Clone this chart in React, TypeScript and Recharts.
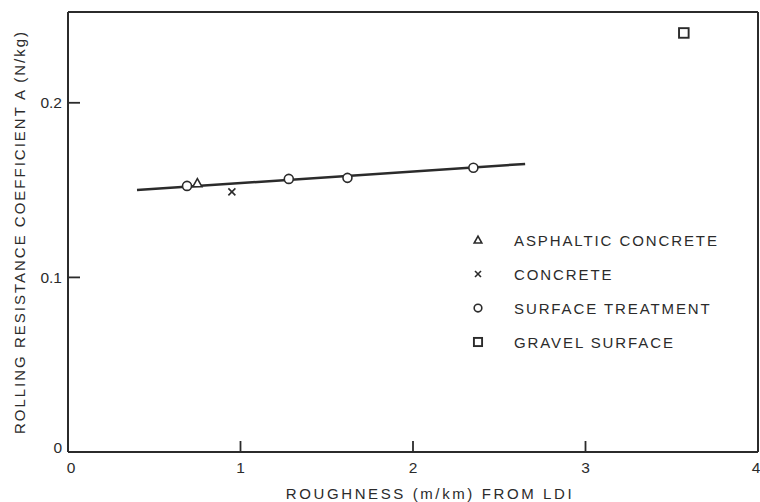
import { ScatterChart, Scatter, XAxis, YAxis, ReferenceLine, Legend } from 'recharts';

// values
const asphaltic = [{ x: 0.75, y: 0.154 }];
const concrete = [{ x: 0.95, y: 0.149 }];
const surfaceTreatment = [
  { x: 0.69, y: 0.1524 },
  { x: 1.28, y: 0.1564 },
  { x: 1.62, y: 0.157 },
  { x: 2.35, y: 0.1628 },
];
const gravel = [{ x: 3.57, y: 0.24 }];
const fitLine = [
  { x: 0.4, y: 0.15 },
  { x: 2.65, y: 0.165 },
];

const X_TICKS = [0, 1, 2, 3, 4];
const Y_TICKS = [0, 0.1, 0.2];
const X_MAX = 4;
const Y_MAX = 0.252;

type Kind = 'tri' | 'x' | 'circle' | 'square';
const LEGEND: { kind: Kind; label: string }[] = [
  { kind: 'tri', label: 'ASPHALTIC CONCRETE' },
  { kind: 'x', label: 'CONCRETE' },
  { kind: 'circle', label: 'SURFACE TREATMENT' },
  { kind: 'square', label: 'GRAVEL SURFACE' },
];

const INK = '#2b2b2b';
const FONT = '"Liberation Sans", Arial, sans-serif';

function Mark({ kind, cx, cy, small }: { kind: Kind; cx: number; cy: number; small?: boolean }) {
  const s = small ? 0.85 : 1;
  if (kind === 'tri') {
    const h = 4.5 * s;
    return (
      <polygon
        points={`${cx},${cy - h} ${cx - h},${cy + h * 0.8} ${cx + h},${cy + h * 0.8}`}
        fill="#fff"
        stroke={INK}
        strokeWidth={1.6}
      />
    );
  }
  if (kind === 'x') {
    const h = 3.5 * s;
    return (
      <g stroke={INK} strokeWidth={1.6}>
        <line x1={cx - h} y1={cy - h} x2={cx + h} y2={cy + h} />
        <line x1={cx - h} y1={cy + h} x2={cx + h} y2={cy - h} />
      </g>
    );
  }
  if (kind === 'circle') {
    return <circle cx={cx} cy={cy} r={4.5 * s} fill="#fff" stroke={INK} strokeWidth={1.6} />;
  }
  const h = 4.8 * s;
  return <rect x={cx - h} y={cy - h} width={h * 2} height={h * 2} fill="#fff" stroke={INK} strokeWidth={1.9} />;
}

const XTick = ({ x, y, payload }: any) => {
  const v = payload.value;
  return (
    <g>
      {v > 0 && v < X_MAX && <line x1={x} y1={y} x2={x} y2={y - 11} stroke={INK} strokeWidth={1.8} />}
      <text x={x + (v === 0 ? 3 : 0)} y={y + 15} textAnchor="middle" dominantBaseline="central" fontSize={15.5} fill={INK} fontFamily={FONT}>
        {v}
      </text>
    </g>
  );
};

const YTick = ({ x, y, payload }: any) => {
  const v = payload.value;
  return (
    <g>
      {v > 0 && <line x1={x} y1={y} x2={x + 12} y2={y} stroke={INK} strokeWidth={1.8} />}
      <text x={x - 6} y={v === 0 ? y - 5 : y} textAnchor="end" dominantBaseline="central" fontSize={15.5} fill={INK} fontFamily={FONT}>
        {v}
      </text>
    </g>
  );
};

const LegendBox = () => (
  <div style={{ fontFamily: FONT, color: INK, fontSize: 15, letterSpacing: 1.9 }}>
    {LEGEND.map((item) => (
      <div key={item.label} style={{ display: 'flex', alignItems: 'center', height: 34 }}>
        <svg width={20} height={16} style={{ display: 'block' }}>
          <Mark kind={item.kind} cx={10} cy={8} small />
        </svg>
        <span style={{ marginLeft: 26, whiteSpace: 'nowrap' }}>{item.label}</span>
      </div>
    ))}
  </div>
);

export default function App() {
  return (
    <div style={{ position: 'absolute', left: 0, top: 0, background: '#fff' }}>
      <ScatterChart width={760} height={502} margin={{ top: 12, right: 2, bottom: 0, left: 0 }}>
        <XAxis
          type="number"
          dataKey="x"
          domain={[0, X_MAX]}
          ticks={X_TICKS}
          tick={<XTick />}
          tickLine={false}
          tickSize={0}
          tickMargin={0}
          height={50}
          axisLine={{ stroke: INK, strokeWidth: 2 }}
          label={{
            value: 'ROUGHNESS (m/km) FROM LDI',
            position: 'insideBottom',
            offset: 3,
            dx: 17,
            style: { fontFamily: FONT, fontSize: 15, letterSpacing: 2.6, fill: INK },
          }}
        />
        <YAxis
          type="number"
          dataKey="y"
          domain={[0, Y_MAX]}
          ticks={Y_TICKS}
          tick={<YTick />}
          tickLine={false}
          tickSize={0}
          tickMargin={0}
          width={68}
          allowDataOverflow
          axisLine={{ stroke: INK, strokeWidth: 2 }}
          label={{
            value: 'ROLLING RESISTANCE COEFFICIENT A (N/kg)',
            angle: -90,
            position: 'insideLeft',
            offset: 20,
            style: { fontFamily: FONT, fontSize: 15, letterSpacing: 2, fill: INK, textAnchor: 'middle' },
          }}
        />
        <ReferenceLine y={Y_MAX} stroke={INK} strokeWidth={2} />
        <ReferenceLine x={X_MAX} stroke={INK} strokeWidth={2} />
        <Legend
          layout="vertical"
          align="center"
          verticalAlign="middle"
          content={<LegendBox />}
          wrapperStyle={{ left: 468, top: 223, width: 290 }}
        />
        <Scatter
          data={fitLine}
          line={{ stroke: INK, strokeWidth: 2.5 }}
          shape={() => <g />}
          legendType="none"
          isAnimationActive={false}
        />
        <Scatter data={surfaceTreatment} shape={(p: any) => <Mark kind="circle" cx={p.cx} cy={p.cy} />} isAnimationActive={false} />
        <Scatter data={asphaltic} shape={(p: any) => <Mark kind="tri" cx={p.cx} cy={p.cy} />} isAnimationActive={false} />
        <Scatter data={concrete} shape={(p: any) => <Mark kind="x" cx={p.cx} cy={p.cy} />} isAnimationActive={false} />
        <Scatter data={gravel} shape={(p: any) => <Mark kind="square" cx={p.cx} cy={p.cy} />} isAnimationActive={false} />
      </ScatterChart>
    </div>
  );
}
